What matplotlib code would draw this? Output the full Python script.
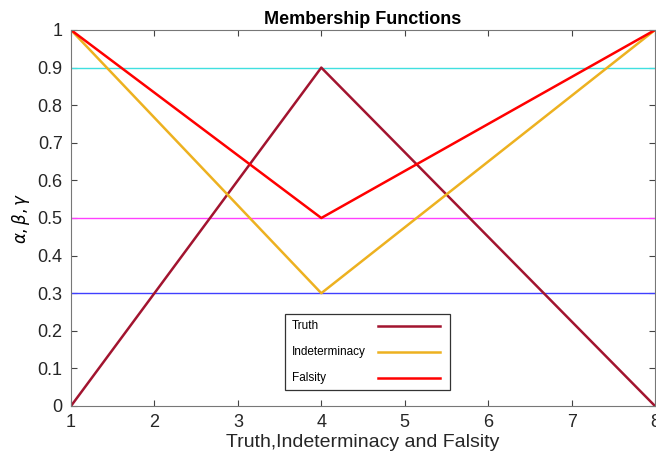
import matplotlib.pyplot as plt
from matplotlib.patches import Rectangle

plt.rcParams["font.family"] = ["Liberation Sans", "DejaVu Sans"]

x = [1, 4, 8]
truth = [0, 0.9, 0]
indeterminacy = [1, 0.3, 1]
falsity = [1, 0.5, 1]
levels = [0.9, 0.5, 0.3]
level_colors = ["#40e0e0", "#ff40ff", "#4040ff"]
names = ["Truth", "Indeterminacy", "Falsity"]
colors = ["#a2142f", "#edb120", "#ff0000"]

W, H = 656, 458
L, B, AW, AH = 71, 406, 584, 376
fig = plt.figure(figsize=(W / 100, H / 100), dpi=100)
ax = fig.add_axes([L / W, 1 - B / H, AW / W, AH / H])

for lv, c in zip(levels, level_colors):
    ax.plot([1, 8], [lv, lv], color=c, lw=1)

for ys, c, n in zip([truth, indeterminacy, falsity], colors, names):
    ax.plot(x, ys, color=c, lw=1.8, label=n)

ax.set_xlim(1, 8)
ax.set_ylim(0, 1)
ax.set_xticks(range(1, 9))
ax.set_yticks([i / 10 for i in range(11)])
ax.set_yticklabels(["0"] + [f"{i / 10:g}" for i in range(1, 10)] + ["1"])
ax.tick_params(direction="in", labelsize=13, length=4, color="#444444",
               top=True, right=True, pad=6, labelcolor="#262626")
for s in ax.spines.values():
    s.set_color("#777777")

ax.set_title("Membership Functions", fontsize=13, fontweight="bold", pad=4)
ax.set_xlabel("Truth,Indeterminacy and Falsity", fontsize=14, labelpad=2,
              color="#262626")
ax.set_ylabel(r"$\alpha,\beta,\gamma$", fontsize=12, labelpad=4)

# manual legend (pixel layout in axes coordinates)
def px(xp, yp):
    return (xp - L) / AW, (B - yp) / AH

x0, y0 = px(285, 390)
x1, y1 = px(450, 314)
ax.add_patch(Rectangle((x0, y0), x1 - x0, y1 - y0, transform=ax.transAxes,
                       facecolor="white", edgecolor="#333333", lw=0.9, zorder=5))
for i, (n, c) in enumerate(zip(names, colors)):
    yp = 326 + 26 * i
    tx, ty = px(292, yp)
    ax.text(tx, ty, n, transform=ax.transAxes, fontsize=8.5, va="center",
            ha="left", zorder=6)
    lx0, ly = px(378, yp)
    lx1, _ = px(440, yp)
    ax.plot([lx0, lx1], [ly, ly], transform=ax.transAxes, color=c, lw=1.8,
            zorder=6, clip_on=False)

fig.savefig("out.png", dpi=100)
